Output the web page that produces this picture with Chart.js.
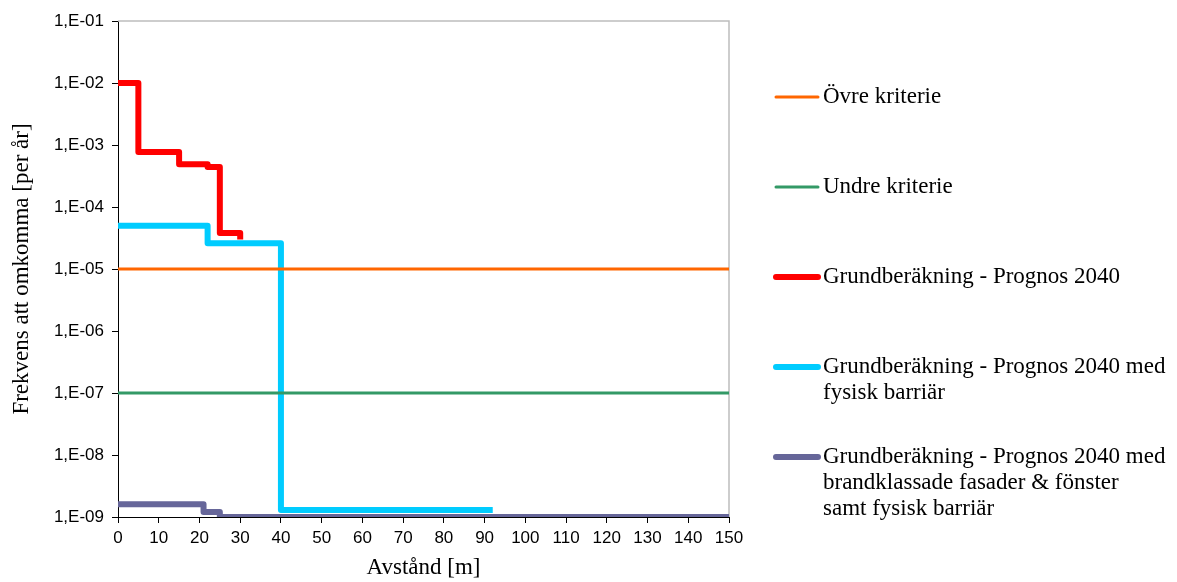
<!DOCTYPE html>
<html>
<head>
<meta charset="utf-8">
<script src="https://cdn.jsdelivr.net/npm/chart.js@4/dist/chart.umd.min.js"></script>
<style>
	html, body { margin: 0; padding: 0; background: #fff; }
	#wrap { width: 1177px; height: 582px; }
</style>
</head>
<body>
<div id="wrap"><canvas id="riskChart" width="1177" height="582"></canvas></div>
<script>
// Avstånd [m] och frekvens per år
const xTicks = [0, 10, 20, 30, 40, 50, 60, 70, 80, 90, 100, 110, 120, 130, 140, 150];
const yTicks = [1e-9, 1e-8, 1e-7, 1e-6, 1e-5, 1e-4, 1e-3, 1e-2, 1e-1];
const yTickLabels = ['1,E-09', '1,E-08', '1,E-07', '1,E-06', '1,E-05', '1,E-04', '1,E-03', '1,E-02', '1,E-01'];

const ovreX = [0, 150];
const ovreY = [1e-5, 1e-5];
const undreX = [0, 150];
const undreY = [1e-7, 1e-7];

const grundX = [0, 5, 15, 22, 25, 30];
const grundY = [1e-2, 7.7e-4, 4.9e-4, 4.4e-4, 3.8e-5, 3.0e-5];

const barriarX = [0, 22, 40, 92];
const barriarY = [5e-5, 2.6e-5, 1.3e-9, 1.3e-9];

const fasadX = [0, 21, 25, 150];
const fasadY = [1.6e-9, 1.2e-9, 1.0e-9, 1.0e-9];

const labels = [
	['Övre kriterie'],
	['Undre kriterie'],
	['Grundberäkning - Prognos 2040'],
	['Grundberäkning - Prognos 2040 med', 'fysisk barriär'],
	['Grundberäkning - Prognos 2040 med', 'brandklassade fasader & fönster', 'samt fysisk barriär']
];

function pts(xs, ys) {
	return xs.map(function(x, i) { return { x: x, y: ys[i] }; });
}

const serif = '"Liberation Serif", "Times New Roman", serif';
const sans = '"Liberation Sans", Arial, sans-serif';

// ram upptill och till höger om ritytan
const frame = {
	id: 'frame',
	beforeDatasetsDraw: function(chart) {
		const a = chart.chartArea;
		const ctx = chart.ctx;
		ctx.save();
		ctx.strokeStyle = '#bdbdbd';
		ctx.lineWidth = 1.5;
		ctx.beginPath();
		ctx.moveTo(a.left, a.top);
		ctx.lineTo(a.right, a.top);
		ctx.lineTo(a.right, a.bottom);
		ctx.stroke();
		ctx.restore();
	}
};

// egen förklaring till höger
const sideLegend = {
	id: 'sideLegend',
	afterDraw: function(chart) {
		const ctx = chart.ctx;
		const rowY = [97, 187, 277, 367, 457];
		ctx.save();
		ctx.font = '23px ' + serif;
		ctx.fillStyle = '#000';
		ctx.textBaseline = 'middle';
		chart.data.datasets.forEach(function(ds, i) {
			const y = rowY[i];
			ctx.strokeStyle = ds.borderColor;
			ctx.lineWidth = ds.borderWidth;
			ctx.lineCap = 'round';
			ctx.beginPath();
			ctx.moveTo(776, y);
			ctx.lineTo(818, y);
			ctx.stroke();
			labels[i].forEach(function(line, k) {
				ctx.fillText(line, 823, y + k * 26);
			});
		});
		ctx.restore();
	}
};

const ctx = document.getElementById('riskChart').getContext('2d');
const chart = new Chart(ctx, {
	type: 'line',
	data: {
		datasets: [
			{ label: labels[0].join(' '), data: pts(ovreX, ovreY), borderColor: '#ff6600', borderWidth: 3 },
			{ label: labels[1].join(' '), data: pts(undreX, undreY), borderColor: '#339966', borderWidth: 3 },
			{ label: labels[2].join(' '), data: pts(grundX, grundY), borderColor: '#ff0000', borderWidth: 6, stepped: 'before' },
			{ label: labels[3].join(' '), data: pts(barriarX, barriarY), borderColor: '#00ccff', borderWidth: 6, stepped: 'before' },
			{ label: labels[4].join(' '), data: pts(fasadX, fasadY), borderColor: '#666699', borderWidth: 6, stepped: 'before',
				clip: { left: 5, top: 5, right: 5, bottom: 0 } }
		]
	},
	options: {
		responsive: false,
		animation: false,
		parsing: false,
		elements: {
			point: { radius: 0, hoverRadius: 0 },
			line: { tension: 0, capBezierPoints: false, borderJoinStyle: 'round' }
		},
		layout: { padding: { left: 0, top: 21, right: 448, bottom: 0 } },
		plugins: {
			legend: { display: false },
			tooltip: { enabled: false }
		},
		scales: {
			x: {
				type: 'linear',
				min: 0,
				max: 150,
				afterBuildTicks: function(scale) {
					scale.ticks = xTicks.map(function(v) { return { value: v }; });
				},
				afterFit: function(scale) { scale.height = 65; },
				grid: { drawOnChartArea: false, drawTicks: true, tickLength: 6, color: '#000' },
				border: { color: '#000', width: 1 },
				ticks: { color: '#000', font: { family: sans, size: 17 }, padding: 5, maxRotation: 0 },
				title: { display: true, text: 'Avstånd [m]', color: '#000', font: { family: serif, size: 23 }, padding: { top: 1, bottom: 0 } }
			},
			y: {
				type: 'logarithmic',
				min: 1e-9,
				max: 1e-1,
				afterBuildTicks: function(scale) {
					scale.ticks = yTicks.map(function(v) { return { value: v }; });
				},
				afterFit: function(scale) { scale.width = 118; },
				grid: { drawOnChartArea: false, drawTicks: true, tickLength: 6, color: '#000' },
				border: { color: '#000', width: 1 },
				ticks: {
					color: '#000',
					font: { family: sans, size: 17 },
					padding: 8,
					callback: function(value) {
						const i = yTicks.findIndex(function(t) { return Math.abs(Math.log10(t) - Math.log10(value)) < 1e-6; });
						return i >= 0 ? yTickLabels[i] : '';
					}
				},
				title: { display: true, text: 'Frekvens att omkomma [per år]', color: '#000', font: { family: serif, size: 23 }, padding: { top: 8, bottom: 0 } }
			}
		}
	},
	plugins: [frame, sideLegend]
});
</script>
</body>
</html>
